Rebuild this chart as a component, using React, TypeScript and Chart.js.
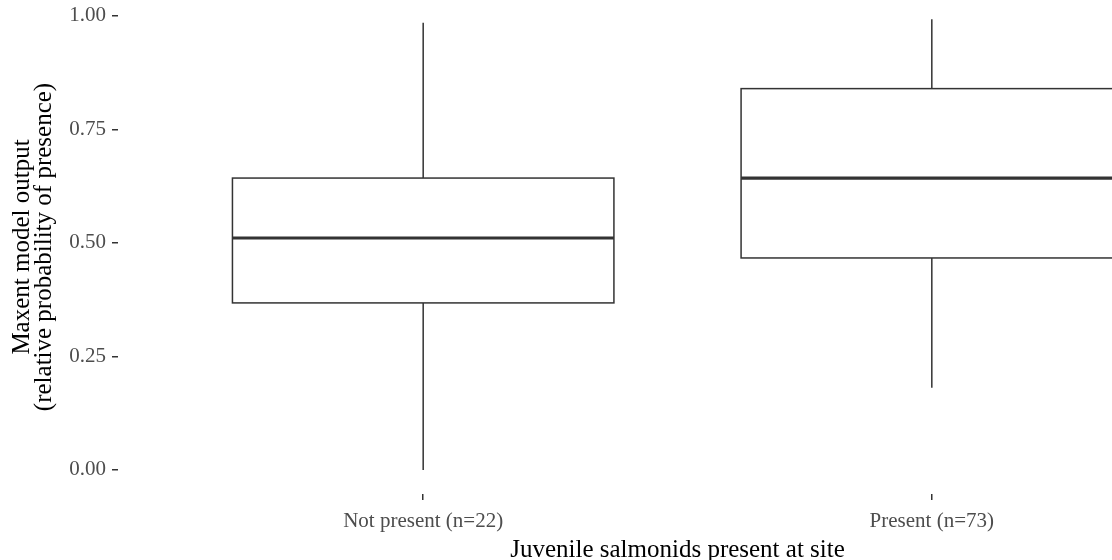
import React, { useEffect, useRef } from 'react';
import { Chart, registerables } from 'chart.js';

Chart.register(...registerables);

// ---- data ----
const categories = ['Not present (n=22)', 'Present (n=73)'];
const whiskerLow = [0.0, 0.181];
const q1 = [0.368, 0.467];
const median = [0.511, 0.643];
const q3 = [0.643, 0.84];
const whiskerHigh = [0.985, 0.993];
const yTicks = [0, 0.25, 0.5, 0.75, 1];
const xTitle = 'Juvenile salmonids present at site';
const yTitle = ['Maxent model output', '(relative probability of presence)'];

const FONT = "'Liberation Serif', 'Times New Roman', serif";
const LINE = '#333333';

const boxPlugin = {
  id: 'boxplotDraw',
  afterDatasetsDraw(chart: any) {
    const { ctx, chartArea, scales } = chart;
    const x = scales.x;
    const y = scales.y;
    ctx.save();
    ctx.beginPath();
    ctx.rect(chartArea.left, chartArea.top, chartArea.right - chartArea.left, chartArea.bottom - chartArea.top);
    ctx.clip();
    ctx.strokeStyle = LINE;
    categories.forEach((_, i) => {
      const cx = x.getPixelForValue(i + 1);
      const l = x.getPixelForValue(i + 1 - 0.375);
      const r = x.getPixelForValue(i + 1 + 0.375);
      const yHi = y.getPixelForValue(whiskerHigh[i]);
      const yQ3 = y.getPixelForValue(q3[i]);
      const yMed = y.getPixelForValue(median[i]);
      const yQ1 = y.getPixelForValue(q1[i]);
      const yLo = y.getPixelForValue(whiskerLow[i]);
      // whiskers
      ctx.lineWidth = 1.5;
      ctx.beginPath();
      ctx.moveTo(cx, yHi);
      ctx.lineTo(cx, yQ3);
      ctx.moveTo(cx, yQ1);
      ctx.lineTo(cx, yLo);
      ctx.stroke();
      // box
      ctx.fillStyle = '#ffffff';
      ctx.fillRect(l, yQ3, r - l, yQ1 - yQ3);
      ctx.lineWidth = 1.5;
      ctx.strokeRect(l, yQ3, r - l, yQ1 - yQ3);
      // median
      ctx.lineWidth = 3.2;
      ctx.beginPath();
      ctx.moveTo(l, yMed);
      ctx.lineTo(r, yMed);
      ctx.stroke();
    });
    ctx.restore();
  },
};

export default function App() {
  const ref = useRef<HTMLCanvasElement | null>(null);

  useEffect(() => {
    document.body.style.margin = '0';
    const canvas = ref.current;
    if (!canvas) return;
    const chart = new Chart(canvas, {
      type: 'scatter',
      data: {
        datasets: [
          {
            data: median.map((m, i) => ({ x: i + 1, y: m })),
            pointRadius: 0,
            pointHoverRadius: 0,
            showLine: false,
          },
        ],
      },
      options: {
        animation: false,
        responsive: false,
        events: [],
        layout: { padding: { top: 20, right: 3, left: 0, bottom: 0 } },
        plugins: {
          legend: { display: false },
          tooltip: { enabled: false },
          title: { display: false },
        },
        scales: {
          x: {
            type: 'linear',
            min: 0.4,
            max: 2.6,
            afterBuildTicks: (s: any) => {
              s.ticks = categories.map((_, i) => ({ value: i + 1 }));
            },
            afterFit: (s: any) => {
              s.height = 72;
            },
            grid: {
              drawOnChartArea: false,
              drawTicks: true,
              tickLength: 6,
              color: LINE,
              lineWidth: 1.5,
            },
            border: { display: false },
            ticks: {
              autoSkip: false,
              maxRotation: 0,
              minRotation: 0,
              padding: 9,
              color: '#4D4D4D',
              font: { family: FONT, size: 21 },
              callback: (v: any) => categories[Math.round(Number(v)) - 1] ?? '',
            },
            title: {
              display: true,
              text: xTitle,
              color: '#000000',
              font: { family: FONT, size: 25 },
              padding: { top: 0, bottom: 1 },
            },
          },
          y: {
            type: 'linear',
            min: -0.0529,
            max: 1.0352,
            afterBuildTicks: (s: any) => {
              s.ticks = yTicks.map((v) => ({ value: v }));
            },
            afterFit: (s: any) => {
              s.width = 118;
            },
            grid: {
              drawOnChartArea: false,
              drawTicks: true,
              tickLength: 6,
              color: LINE,
              lineWidth: 1.5,
            },
            border: { display: false },
            ticks: {
              padding: 6,
              color: '#4D4D4D',
              font: { family: FONT, size: 21 },
              callback: (v: any) => Number(v).toFixed(2),
            },
            title: {
              display: true,
              text: yTitle,
              color: '#000000',
              font: { family: FONT, size: 25, lineHeight: 0.9 },
              padding: { top: 11, bottom: 0 },
            },
          },
        },
      },
      plugins: [boxPlugin],
    } as any);
    return () => chart.destroy();
  }, []);

  return (
    <div
      style={{
        position: 'fixed',
        left: 0,
        top: 0,
        width: 1112,
        height: 560,
        overflow: 'hidden',
        background: '#ffffff',
      }}
    >
      <canvas
        ref={ref}
        width={1240}
        height={586}
        style={{ position: 'absolute', left: 0, top: -20, width: 1240, height: 586 }}
      />
    </div>
  );
}
